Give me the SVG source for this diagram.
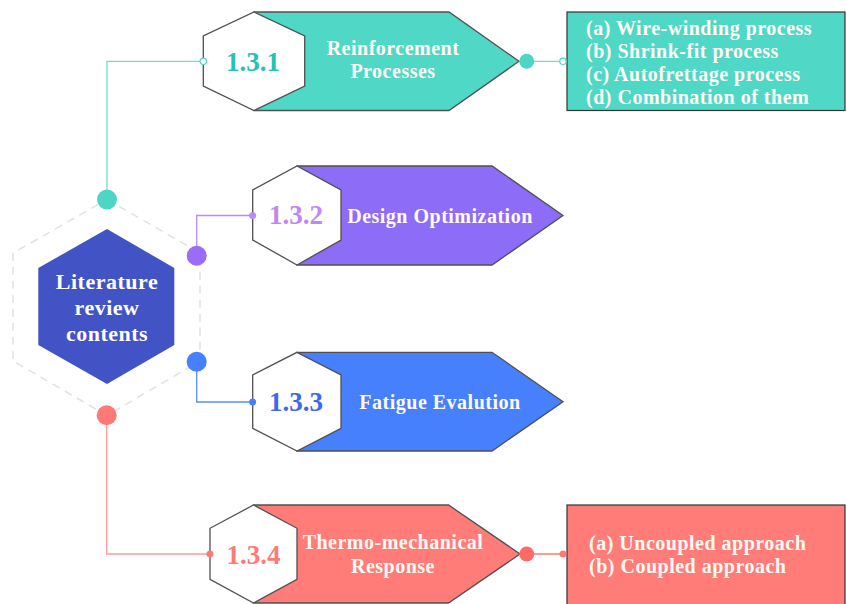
<svg xmlns="http://www.w3.org/2000/svg" width="846" height="604" viewBox="0 0 846 604">
<style>
.hex{fill:#ffffff;stroke:#505050;stroke-width:1.3}
.arr{stroke:#505050;stroke-width:1.3}
.box{stroke:#333333;stroke-width:1.2}
.lbl{font-family:"Liberation Serif","Times New Roman",serif;font-weight:bold;font-size:20px;letter-spacing:0.5px;fill:#fffaf4;text-anchor:middle}
.lst{font-family:"Liberation Serif","Times New Roman",serif;font-weight:bold;font-size:20px;letter-spacing:0.5px;fill:#fffaf4}
.num{font-family:"Liberation Serif","Times New Roman",serif;font-weight:bold;font-size:27px;text-anchor:middle}
.ctr{font-family:"Liberation Serif","Times New Roman",serif;font-weight:bold;font-size:22px;letter-spacing:0.5px;fill:#ffffff;text-anchor:middle}
.ln{fill:none;stroke-width:1.3}
</style>
<rect width="846" height="604" fill="#ffffff"/>

<g id="center">
<polygon points="107,199.5 200,253 200,361 107,415.5 13,361 13,253" fill="none" stroke="#e2e2e2" stroke-width="1.5" stroke-dasharray="8 6"/>
<polygon points="107,229 174.3,268 174.3,345 107,384 38.3,345 38.3,268" fill="#4253c6"/>
<text class="ctr" x="107" y="288.5">Literature</text>
<text class="ctr" x="107" y="314.8">review</text>
<text class="ctr" x="107" y="341">contents</text>
</g>

<g id="node-1-3-1">
<polygon class="arr" points="254,12 449,12 519,61.3 449,110.5 254,110.5" fill="#50d8c6"/>
<polygon class="hex" points="254,12 304.7,36 304.7,86 254,110.5 203.3,86 203.3,36"/>
<text class="num" x="253" y="70.5" fill="#22c3b4">1.3.1</text>
<text class="lbl" x="393" y="54.5">Reinforcement</text>
<text class="lbl" x="393" y="78">Processes</text>
</g>

<g id="list-1-3-1">
<rect class="box" x="567" y="12" width="278" height="98.5" fill="#50d8c6"/>
<text class="lst" x="586" y="34.5">(a) Wire-winding process</text>
<text class="lst" x="586" y="57.5">(b) Shrink-fit process</text>
<text class="lst" x="586" y="80.5">(c) Autofrettage process</text>
<text class="lst" x="586" y="103.5">(d) Combination of them</text>
</g>

<g id="node-1-3-2">
<polygon class="arr" points="297,166 492,166 563,215.5 492,265 297,265" fill="#8d6cf7"/>
<polygon class="hex" points="297,166 341,190 341,240 297,265 252.7,240 252.7,190"/>
<text class="num" x="296" y="224" fill="#c185f5">1.3.2</text>
<text class="lbl" x="440" y="222.5">Design Optimization</text>
</g>

<g id="node-1-3-3">
<polygon class="arr" points="297,352.3 492,352.3 563,401.7 492,451 297,451" fill="#4680fc"/>
<polygon class="hex" points="297,352.3 341,375 341,428.3 297,451 252.7,428.3 252.7,375"/>
<text class="num" x="296" y="410.7" fill="#3f66ec">1.3.3</text>
<text class="lbl" x="440" y="408.5">Fatigue Evalution</text>
</g>

<g id="node-1-3-4">
<polygon class="arr" points="253.5,505 448.5,505 520,554 448.5,603 253.5,603" fill="#ff7c78"/>
<polygon class="hex" points="253.5,505 297,528.3 297,579.3 253.5,603 210,579.3 210,528.3"/>
<text class="num" x="253.5" y="564" fill="#ff7a74">1.3.4</text>
<text class="lbl" x="393" y="549.3">Thermo-mechanical</text>
<text class="lbl" x="393" y="572.7">Response</text>
</g>

<g id="list-1-3-4">
<rect class="box" x="567" y="505" width="278" height="105" fill="#ff7c78"/>
<text class="lst" x="589" y="550">(a) Uncoupled approach</text>
<text class="lst" x="589" y="573.3">(b) Coupled approach</text>
</g>

<g id="connectors">
<polyline class="ln" stroke="#6edfcf" points="107,199.5 107,61.3 203.3,61.3"/>
<circle cx="107" cy="199.5" r="10" fill="#4ed6c4"/>
<circle cx="203.3" cy="61.3" r="3.2" fill="#ffffff" stroke="#4ed6c4" stroke-width="1.2"/>
<line class="ln" stroke="#6edfcf" x1="526.7" y1="61.3" x2="563" y2="61.3"/>
<circle cx="526.7" cy="61.3" r="7.5" fill="#4ed6c4"/>
<circle cx="563" cy="61.3" r="3.2" fill="#ffffff" stroke="#4ed6c4" stroke-width="1.2"/>

<polyline class="ln" stroke="#b88cf8" points="196.7,255.7 196.7,215.5 252.7,215.5"/>
<circle cx="196.7" cy="255.7" r="10" fill="#9a6cf7"/>
<circle cx="252.7" cy="215.5" r="3.5" fill="#b88cf8"/>

<polyline class="ln" stroke="#5a8cfc" points="196.7,361.7 196.7,402 252.7,402"/>
<circle cx="196.7" cy="361.7" r="10" fill="#4680fc"/>
<circle cx="252.7" cy="402" r="3.5" fill="#4680fc"/>

<polyline class="ln" stroke="#ff9a95" points="106.7,415.3 106.7,554 210,554"/>
<circle cx="106.7" cy="415.3" r="10" fill="#ff7a74"/>
<circle cx="210" cy="554" r="3.5" fill="#ff7a74"/>
<line class="ln" stroke="#ff7a74" x1="526.7" y1="554" x2="563" y2="554"/>
<circle cx="526.7" cy="554" r="7.5" fill="#ff6a66"/>
<circle cx="563" cy="554" r="3.5" fill="#ff7a74"/>
</g>
</svg>
